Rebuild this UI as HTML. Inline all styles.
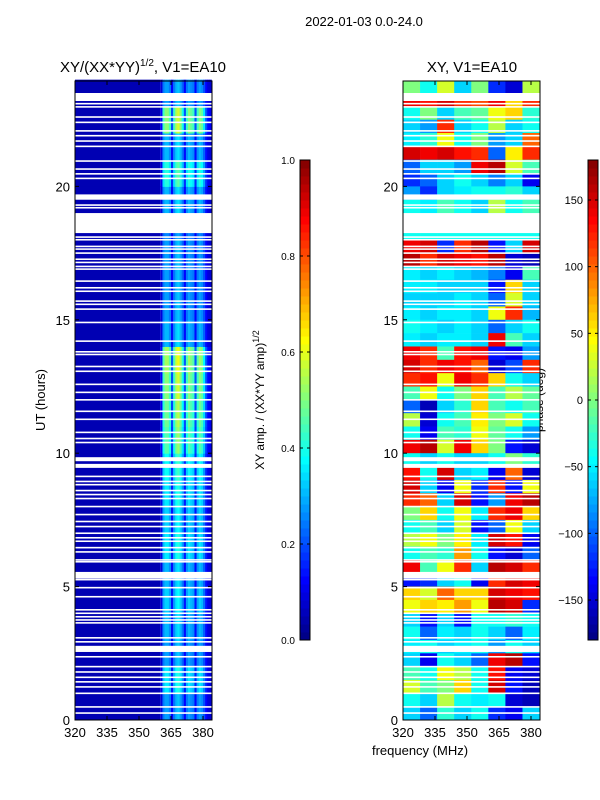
<!DOCTYPE html>
<html><head><meta charset="utf-8">
<style>
body{margin:0;background:#fff;}
svg{display:block;font-family:"Liberation Sans",sans-serif;}
</style></head>
<body>
<svg id="fig" width="600" height="800" viewBox="0 0 600 800">
<text x="364" y="26" font-size="13" text-anchor="middle">2022-01-03 0.0-24.0</text>
<text x="143" y="72" font-size="15" text-anchor="middle">XY/(XX*YY)<tspan font-size="10" dy="-6">1/2</tspan><tspan dy="6">, V1=EA10</tspan></text>
<text x="472" y="72" font-size="15" text-anchor="middle">XY, V1=EA10</text>
<text x="420" y="755" font-size="13" text-anchor="middle">frequency (MHz)</text>
<text transform="translate(45,400) rotate(-90)" font-size="13" text-anchor="middle">UT (hours)</text>
<text transform="translate(264,400) rotate(-90)" font-size="12" text-anchor="middle">XY amp. / (XX*YY amp)<tspan font-size="9" dy="-5">1/2</tspan></text>
<text transform="translate(543,400) rotate(-90)" font-size="12" text-anchor="middle">phase (deg)</text>
<g id="left"></g>
<g id="right"></g>
<g id="axes"></g>
</svg>
<script>
// ---- data ----
const ampHourFactor = [0.45,0.6,0.45,0.5,0.55,0.5,0.6,0.55,0.6,0.65,0.8,0.85,0.9,0.95,0.5,0.45,0.45,0.45,0.4,0.5,0.7,0.5,0.9,0.45];
const ampChanFreq = [360,361,362,363,364,365,366,367,368,369,370,371,372,373,374,375,376,377,378,379,380,381,382,383];
const ampChanProfile = [0.1,0.5,0.6,0.6,0.5,0.2,0.5,0.65,0.7,0.6,0.45,0.2,0.5,0.6,0.55,0.5,0.2,0.5,0.6,0.55,0.4,0.2,0.1,0.08];
const ampBase = 0.05;
const phaseFreqEdges = [320,328,336,344,352,360,368,376,384.2];
// half-hour rows, from top (23.5-24) down to (0-0.5)
const phaseRows = [
[0,-40,30,-60,0,-120,-150,20],[140,130,150,120,110,140,60,120],[-40,0,-60,-20,-10,40,60,-30],[-60,-80,120,-60,-40,20,-60,-40],
[-50,-30,40,-40,0,-80,-60,100],[150,140,150,130,120,-100,50,120],[-100,-60,-60,-80,140,160,30,-20],[-120,-100,-60,-40,-60,-90,-60,-140],
[-80,-120,-60,-50,-40,-40,-30,-60],[-40,-50,-20,-40,-60,20,-40,-20],[-40,-40,-40,-40,-40,-40,-40,-40],[-40,-40,-40,-40,-40,-40,-40,-40],
[140,150,-120,120,160,-130,-60,150],[160,120,150,140,130,160,-150,-160],[-50,-60,-50,-60,-70,-90,-140,-20],[-50,-50,-60,-60,-60,-130,60,-60],
[-60,-60,-60,-50,-60,-100,30,-60],[-50,-60,-50,-50,-60,40,120,-70],[-40,-50,-60,-50,-60,-100,-60,-40],[-50,-60,-50,-50,-60,140,-20,-60],
[140,120,-20,130,140,-130,-140,-80],[150,120,140,130,100,-150,-110,120],[120,130,40,140,120,60,-40,-60],[-20,40,-40,0,60,-20,20,-10],
[-100,-160,-60,-30,60,-20,-40,-20],[20,-150,-40,-20,50,0,30,-40],[-40,-140,-20,-30,40,-10,-40,-80],[140,160,30,140,60,0,-130,-150],
[-40,-60,-40,-60,-60,-40,0,-30],[130,-40,150,-60,-50,-140,100,-150],[150,-60,-140,40,-120,120,-130,40],[120,100,-60,150,-130,-80,140,160],
[0,60,-40,40,-50,120,140,60],[-40,-20,-60,30,-130,-100,40,-60],[20,40,0,50,-50,150,130,-140],[-40,-20,-30,80,-40,-130,-150,-100],
[140,-20,40,120,-60,160,150,120],[-130,-120,-60,-40,-140,120,150,140],[60,30,100,60,60,150,140,130],[40,60,50,80,40,160,150,-120],
[-60,-130,-60,-130,-40,-40,-30,-40],[-40,-100,-50,-60,-40,-60,-100,-50],[-50,-40,-60,-50,-40,-80,-40,-60],[-60,-140,-40,-60,-100,140,160,-130],
[-20,-40,40,20,-40,130,-140,-150],[30,-20,0,60,-40,150,-130,-160],[-40,-60,20,-40,-50,-40,-150,-160],[-60,-100,-30,-60,-40,-120,-140,-60]
];
const flagWide = [[23.2,23.5],[18.25,19.0],[19.5,19.7],[9.45,9.6],[9.7,9.85],[5.3,5.55],[2.55,2.78]];
const flagThin = [23.1,22.98,22.6,22.4,22.08,21.9,21.7,21.5,20.95,20.65,20.47,20.3,19.3,19.2,18.1,18.0,17.75,17.65,17.5,17.27,17.15,17.0,16.9,16.45,16.2,16.07,15.7,15.58,15.4,14.9,14.2,13.8,13.7,13.25,13.07,12.58,12.28,12.0,11.57,11.27,10.78,10.55,10.4,9.13,8.94,8.82,8.6,8.45,8.3,8.0,7.7,7.44,7.25,7.0,6.83,6.7,6.46,6.3,6.0,5.93,5.26,4.96,4.62,4.13,4.0,3.87,3.75,3.64,3.08,2.93,2.37,2.0,1.8,1.6,1.43,1.24,1.0,0.49,0.26];
const xTicks = [320,335,350,365,380];
const yTicks = [0,5,10,15,20];
const ampTicks = [0.0,0.2,0.4,0.6,0.8,1.0];
const phaseTicks = [-150,-100,-50,0,50,100,150];

// ---- scales ----
const NS='http://www.w3.org/2000/svg';
const Y0=720, Y1=81, H0=0, H1=23.95;
const yS = h => Y0 - (h-H0)/(H1-H0)*(Y0-Y1);
const xL = f => 75 + (f-320)*(203-75)/60;
const xR = f => 403 + (f-320)*(203-75)/60;
const FMAX = 384.2;
function jet(v){v=Math.max(0,Math.min(1,v));
 const c=x=>Math.max(0,Math.min(1,1.5-Math.abs(4*v-x)));
 return `rgb(${Math.round(c(3)*255)},${Math.round(c(2)*255)},${Math.round(c(1)*255)})`;}
function mk(tag,attrs,parent){const e=document.createElementNS(NS,tag);for(const k in attrs)e.setAttribute(k,attrs[k]);parent.appendChild(e);return e;}

const L=document.getElementById('left'), R=document.getElementById('right'), A=document.getElementById('axes');
// left heatmap
ampHourFactor.forEach((fac,h)=>{
  const y=yS(h+1), hh=yS(h)-yS(h+1);
  let r=mk('rect',{x:xL(320),y:y,width:xL(360)-xL(320),height:hh+0.5,fill:jet(ampBase)},L);
   
  ampChanFreq.forEach((f,i)=>{
    const f2=Math.min(f+1,FMAX);
    const v=ampBase+ampChanProfile[i]*fac*0.85;
    let c=mk('rect',{x:xL(f),y:y,width:xL(f2)-xL(f)+0.3,height:hh+0.5,fill:jet(v)},L);
     
  });
});
// right heatmap
phaseRows.forEach((row,i)=>{
  const hTop=24-i*0.5, hBot=hTop-0.5;
  const y=yS(Math.min(hTop,H1)), hh=yS(hBot)-y;
  row.forEach((p,j)=>{
    const f1=phaseFreqEdges[j], f2=phaseFreqEdges[j+1];
    let c=mk('rect',{x:xR(f1),y:y,width:xR(f2)-xR(f1)+0.3,height:hh+0.3,fill:jet((p+180)/360)},R);
     
  });
});
// flags
[[L,xL],[R,xR]].forEach(([g,xs])=>{
  flagWide.forEach(([a,b])=>{
    let r=mk('rect',{x:xs(320),y:yS(b),width:xs(FMAX)-xs(320),height:yS(a)-yS(b),fill:'#fff'},g);
     
  });
  flagThin.forEach(h=>{
    let r=mk('rect',{x:xs(320),y:yS(h)-0.8,width:xs(FMAX)-xs(320),height:1.6,fill:'#fff'},g);
     
  });
});
// axes frames and ticks
[[xL,75],[xR,403]].forEach(([xs,x0],k)=>{
  let fr=mk('rect',{x:x0,y:Y1,width:137,height:Y0-Y1,fill:'none',stroke:'#000','stroke-width':1},A);
   
  xTicks.forEach(t=>{
    const x=xs(t);
    mk('line',{x1:x,x2:x,y1:Y0,y2:Y0-4,stroke:'#000'},A);
    mk('line',{x1:x,x2:x,y1:Y1,y2:Y1+4,stroke:'#000'},A);
    let tx=mk('text',{x:x,y:Y0+17,'font-size':13,'text-anchor':'middle'},A);
    tx.textContent=t;
     
  });
  yTicks.forEach(t=>{
    const y=yS(t);
    mk('line',{x1:x0,x2:x0+4,y1:y,y2:y,stroke:'#000'},A);
    mk('line',{x1:x0+137,x2:x0+133,y1:y,y2:y,stroke:'#000'},A);
    let tx=mk('text',{x:x0-5,y:y+5,'font-size':13,'text-anchor':'end'},A);
    tx.textContent=t;
     
  });
});
// colorbars
function colorbar(x,ticks,vmin,vmax,name,fmt){
  const top=160,bot=640,n=60;
  for(let i=0;i<n;i++){
    let r=mk('rect',{x:x,y:bot-(i+1)*(bot-top)/n,width:10,height:(bot-top)/n+0.5,fill:jet((i+0.5)/n)},A);
     
  }
  let f=mk('rect',{x:x,y:top,width:10,height:bot-top,fill:'none',stroke:'#000'},A);
   
  ticks.forEach(t=>{
    const y=bot-(t-vmin)/(vmax-vmin)*(bot-top);
    mk('line',{x1:x,x2:x+3,y1:y,y2:y,stroke:'#000'},A);
    mk('line',{x1:x+10,x2:x+7,y1:y,y2:y,stroke:'#000'},A);
    let tx=mk('text',{x:x-5,y:y+4,'font-size':fmt?10:11,'text-anchor':'end'},A);
    tx.textContent=fmt?t.toFixed(1):(t<0?'\u2212'+(-t):t);
     
  });
}
colorbar(300,ampTicks,0,1,'amp-colorbar',true);
colorbar(588,phaseTicks,-180,180,'phase-colorbar',false);
</script>
</body></html>
